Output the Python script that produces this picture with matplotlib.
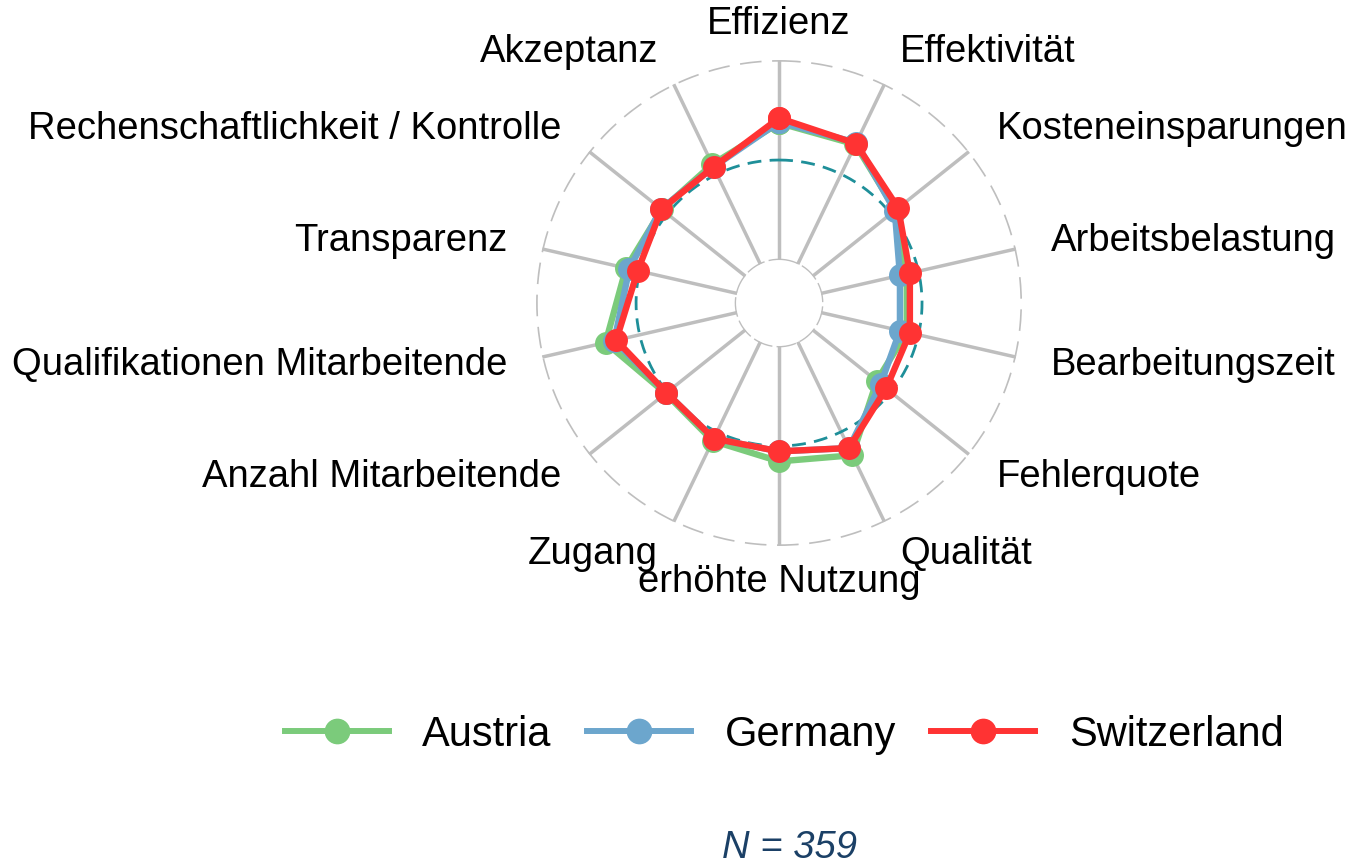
import numpy as np
import matplotlib
matplotlib.use('Agg')
import matplotlib.pyplot as plt
from matplotlib.lines import Line2D

plt.rcParams['font.family'] = ['Liberation Sans', 'DejaVu Sans']

categories = ['Effizienz', 'Effektivität', 'Kosteneinsparungen', 'Arbeitsbelastung',
              'Bearbeitungszeit', 'Fehlerquote', 'Qualität', 'erhöhte Nutzung', 'Zugang',
              'Anzahl Mitarbeitende', 'Qualifikationen Mitarbeitende', 'Transparenz',
              'Rechenschaftlichkeit / Kontrolle', 'Akzeptanz']
countries = ['Austria', 'Germany', 'Switzerland']
austria = [0.685, 0.665, 0.53, 0.44, 0.44, 0.41, 0.63, 0.577, 0.55, 0.51, 0.675, 0.57, 0.535, 0.555]
germany = [0.69, 0.675, 0.525, 0.405, 0.405, 0.435, 0.59, 0.527, 0.537, 0.505, 0.63, 0.553, 0.54, 0.54]
switzerland = [0.71, 0.67, 0.547, 0.456, 0.456, 0.47, 0.59, 0.527, 0.537, 0.505, 0.62, 0.51, 0.537, 0.54]
colors = ['#7BCB7B', '#6CA6CD', '#FF3333']
n_text = 'N = 359'

fig = plt.figure(figsize=(13.55, 8.65), dpi=100)
ax = fig.add_axes([0.3956, 0.3688, 0.3587, 0.5618], projection='polar')
ax.set_theta_zero_location('N')
ax.set_theta_direction(-1)
ax.set_ylim(0, 1)
ax.set_rorigin(-0.215)
ax.set_axis_off()

n = len(categories)
angles = np.arange(n) * 2 * np.pi / n
full = np.linspace(0, 2 * np.pi, 400)

# spokes
for a in angles:
    ax.plot([a, a], [0, 1], color='#BEBEBE', lw=2.5, zorder=1, solid_capstyle='butt')
# grid circles
ax.plot(full, np.zeros_like(full), color='#BEBEBE', lw=2, ls=(0, (7, 1.5)), zorder=1)
ax.plot(full, np.full_like(full, 0.5), color='#1E8F99', lw=2.0, ls=(0, (5, 3)), zorder=2)
ax.plot(full, np.ones_like(full), color='#BEBEBE', lw=2.4, ls=(0, (6.5, 3.2)), zorder=1)

# series
for name, vals, c in zip(countries, [austria, germany, switzerland], colors):
    th = np.append(angles, angles[0])
    rr = np.append(vals, vals[0])
    ax.plot(th, rr, color=c, lw=4.6, marker='o', markersize=15.5, zorder=3)

# axis labels
for a, lab in zip(angles, categories):
    s = np.sin(a)
    if s > 0.01:
        ha = 'left'
    elif s < -0.01:
        ha = 'right'
    else:
        ha = 'center'
    ax.text(a, 1.18, lab, ha=ha, va='center', fontsize=27.5, clip_on=False)

handles = [Line2D([], [], color=c, lw=4.3, marker='o', markersize=17.5) for c in colors]
fig.legend(handles, countries, loc='center', bbox_to_anchor=(784 / 1355, 1 - 735 / 865),
           ncol=3, frameon=False, fontsize=30, handlelength=2.5,
           handletextpad=0.8, columnspacing=0.85)

fig.text(789 / 1355, 1 - 848 / 865, n_text, ha='center', va='center', fontsize=27.5,
         style='italic', color='#1B4066')

fig.savefig('out.png', dpi=100)
